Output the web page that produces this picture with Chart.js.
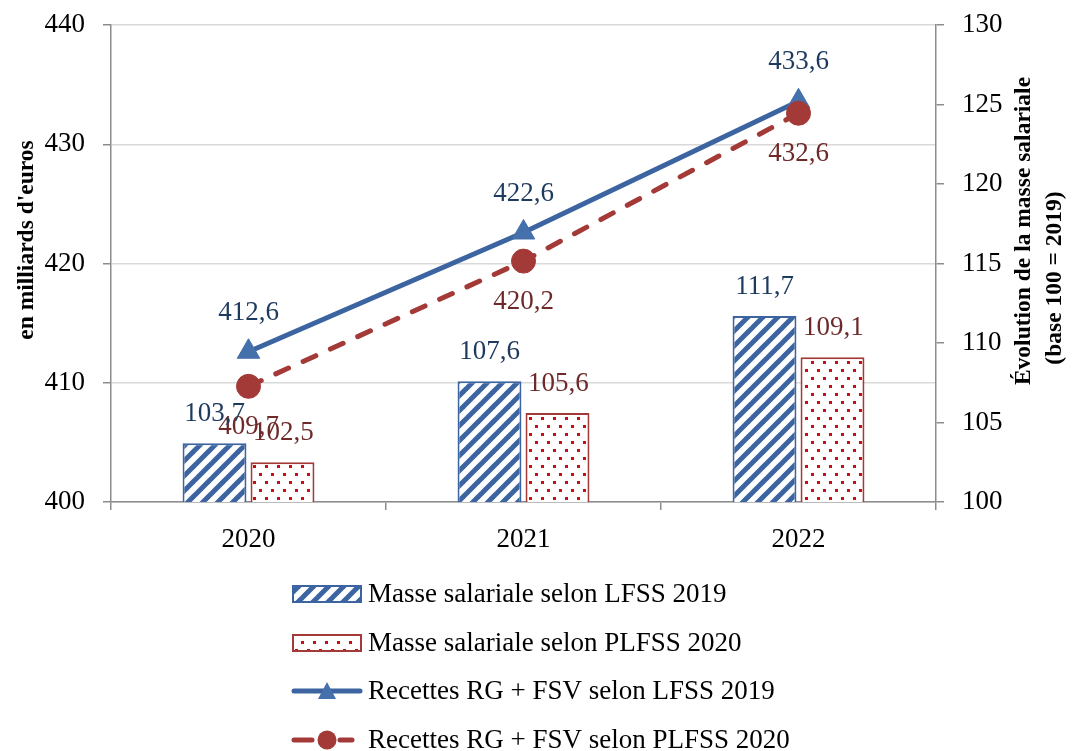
<!DOCTYPE html>
<html><head><meta charset="utf-8">
<script src="https://cdn.jsdelivr.net/npm/chart.js@4"></script>
<style>html,body{margin:0;padding:0;background:#fff}#wrap{width:1074px;height:751px}</style>
</head><body><div id="wrap"><canvas id="c" width="1074" height="751"></canvas></div>
<script>
const categories = ['2020', '2021', '2022'];
const masseLFSS2019 = [103.7, 107.6, 111.7];
const massePLFSS2020 = [102.5, 105.6, 109.1];
const recettesLFSS2019 = [412.6, 422.6, 433.6];
const recettesPLFSS2020 = [409.7, 420.2, 432.6];
const leftTicks = [400, 410, 420, 430, 440];
const rightTicks = [100, 105, 110, 115, 120, 125, 130];
const legendLabels = ['Masse salariale selon LFSS 2019', 'Masse salariale selon PLFSS 2020', 'Recettes RG + FSV selon LFSS 2019', 'Recettes RG + FSV selon PLFSS 2020'];
const leftTitle = "en milliards d'euros";
const rightTitle = ['Évolution de la masse salariale', '(base 100 = 2019)'];

const FONT = '"Liberation Serif", "Times New Roman", serif';
const BLUE = '#3B64A0', RED = '#A33A38', TRI = '#4470AC', BLUE_TXT = '#1F3A5F', RED_TXT = '#6E2A2A';

function hatch() {
  const s = 15;
  const c = document.createElement('canvas'); c.width = s; c.height = s;
  const g = c.getContext('2d');
  g.fillStyle = '#fff'; g.fillRect(0, 0, s, s);
  g.strokeStyle = BLUE; g.lineWidth = 5; g.lineCap = 'square';
  [[-s, s, s, -s], [0, s, s, 0], [0, 2 * s, 2 * s, 0]].forEach(([a, b, c2, d]) => { g.beginPath(); g.moveTo(a, b); g.lineTo(c2, d); g.stroke(); });
  return g.createPattern(c, 'repeat');
}
function dots() {
  const c = document.createElement('canvas'); c.width = 12; c.height = 16;
  const g = c.getContext('2d');
  g.fillStyle = '#fff'; g.fillRect(0, 0, 12, 16);
  g.fillStyle = '#C80F0F';
  g.fillRect(1, 1, 3, 3); g.fillRect(7, 9, 3, 3);
  return g.createPattern(c, 'repeat');
}
const HATCH = hatch(), DOTS = dots();
const fmt = v => v.toFixed(1).replace('.', ',');

const extras = {
  id: 'extras',
  afterDatasetsDraw(chart) {
    const ctx = chart.ctx;
    ctx.save();
    ctx.font = '27px ' + FONT; ctx.textAlign = 'center'; ctx.textBaseline = 'middle';
    chart.getDatasetMeta(2).data.forEach((p, i) => { ctx.fillStyle = BLUE_TXT; ctx.fillText(fmt(recettesLFSS2019[i]), p.x, p.y - 39); });
    chart.getDatasetMeta(3).data.forEach((p, i) => { ctx.fillStyle = RED_TXT; ctx.fillText(fmt(recettesPLFSS2020[i]), p.x, p.y + 41); });
    chart.getDatasetMeta(0).data.forEach((b, i) => { ctx.fillStyle = BLUE_TXT; ctx.fillText(fmt(masseLFSS2019[i]), b.x, b.y - 29); });
    chart.getDatasetMeta(1).data.forEach((b, i) => { ctx.fillStyle = RED_TXT; ctx.fillText(fmt(massePLFSS2020[i]), b.x + 1, b.y - 29); });
    // axis titles
    ctx.fillStyle = '#000';
    ctx.font = 'bold 23.5px ' + FONT;
    ctx.save(); ctx.translate(27, 240); ctx.rotate(-Math.PI / 2); ctx.fillText(leftTitle, 0, 0); ctx.restore();
    ctx.save(); ctx.translate(1024, 231); ctx.rotate(-Math.PI / 2); ctx.fillText(rightTitle[0], 0, 0); ctx.restore();
    ctx.save(); ctx.translate(1055, 278); ctx.rotate(-Math.PI / 2); ctx.fillText(rightTitle[1], 0, 0); ctx.restore();
    // legend
    const rows = [594, 643, 691, 740];
    ctx.font = '27px ' + FONT; ctx.textAlign = 'left';
    legendLabels.forEach((t, i) => { ctx.fillStyle = '#000'; ctx.fillText(t, 368, rows[i] + 1); });
    ctx.fillStyle = HATCH; ctx.fillRect(293, rows[0] - 8, 68, 16);
    ctx.strokeStyle = BLUE; ctx.lineWidth = 2; ctx.strokeRect(293, rows[0] - 8, 68, 16);
    ctx.fillStyle = DOTS; ctx.fillRect(293, rows[1] - 8, 68, 16);
    ctx.strokeStyle = RED; ctx.strokeRect(293, rows[1] - 8, 68, 16);
    ctx.lineCap = 'round'; ctx.lineWidth = 5;
    ctx.strokeStyle = BLUE; ctx.beginPath(); ctx.moveTo(294, rows[2]); ctx.lineTo(360, rows[2]); ctx.stroke();
    ctx.fillStyle = TRI; ctx.beginPath(); ctx.moveTo(327, rows[2] - 9); ctx.lineTo(336, rows[2] + 8); ctx.lineTo(318, rows[2] + 8); ctx.closePath(); ctx.fill();
    ctx.strokeStyle = RED; ctx.beginPath(); ctx.moveTo(294, rows[3]); ctx.lineTo(312, rows[3]); ctx.moveTo(340, rows[3]); ctx.lineTo(352, rows[3]); ctx.stroke();
    ctx.fillStyle = RED; ctx.beginPath(); ctx.arc(327, rows[3], 9.5, 0, Math.PI * 2); ctx.fill();
    ctx.restore();
  }
};

function noPad(s) { s.paddingTop = 0; s.paddingBottom = 0; }

new Chart(document.getElementById('c'), {
  data: {
    labels: categories,
    datasets: [
      { type: 'bar', label: legendLabels[0], data: masseLFSS2019, yAxisID: 'y1', backgroundColor: HATCH, borderColor: BLUE, borderWidth: 2, categoryPercentage: 0.4945, barPercentage: 0.94, order: 2 },
      { type: 'bar', label: legendLabels[1], data: massePLFSS2020, yAxisID: 'y1', backgroundColor: DOTS, borderColor: RED, borderWidth: 2, categoryPercentage: 0.4945, barPercentage: 0.94, order: 2 },
      { type: 'line', label: legendLabels[2], data: recettesLFSS2019, yAxisID: 'y', borderColor: BLUE, borderWidth: 5, pointStyle: 'triangle', pointRadius: 13, pointBackgroundColor: TRI, pointBorderColor: TRI, pointBorderWidth: 1, order: 1 },
      { type: 'line', label: legendLabels[3], data: recettesPLFSS2020, yAxisID: 'y', borderColor: RED, borderWidth: 5, borderDash: [14, 16], borderCapStyle: 'round', pointStyle: 'circle', pointRadius: 12, pointBackgroundColor: RED, pointBorderColor: RED, pointBorderWidth: 1, order: 0 }
    ]
  },
  options: {
    responsive: false, animation: false, devicePixelRatio: 1,
    layout: { padding: { top: 25, left: 0, right: 0, bottom: 0 } },
    plugins: { legend: { display: false }, tooltip: { enabled: false } },
    scales: {
      x: {
        offset: true,
        grid: { offset: true, drawOnChartArea: false, tickLength: 8, color: '#8c8c8c', lineWidth: 1.5 },
        border: { color: '#8c8c8c', width: 1.5 },
        ticks: { font: { family: FONT, size: 27 }, color: '#000', padding: 14 },
        afterFit(s) { s.height = 249; s.paddingLeft = 0; s.paddingRight = 0; }
      },
      y: {
        position: 'left', min: 400, max: 440,
        afterBuildTicks(s) { s.ticks = leftTicks.map(v => ({ value: v })); },
        ticks: { font: { family: FONT, size: 27 }, color: '#000', padding: 18 },
        grid: { color: '#d9d9d9', lineWidth: 1.5, tickLength: 8, tickColor: '#8c8c8c' },
        border: { color: '#8c8c8c', width: 1.5 },
        afterFit(s) { s.width = 111; noPad(s); }
      },
      y1: {
        position: 'right', min: 100, max: 130,
        afterBuildTicks(s) { s.ticks = rightTicks.map(v => ({ value: v })); },
        ticks: { font: { family: FONT, size: 27 }, color: '#000', padding: 18 },
        grid: { drawOnChartArea: false, tickLength: 8, color: '#8c8c8c', lineWidth: 1.5 },
        border: { color: '#8c8c8c', width: 1.5 },
        afterFit(s) { s.width = 138; noPad(s); }
      }
    }
  },
  plugins: [extras]
});
</script></body></html>
